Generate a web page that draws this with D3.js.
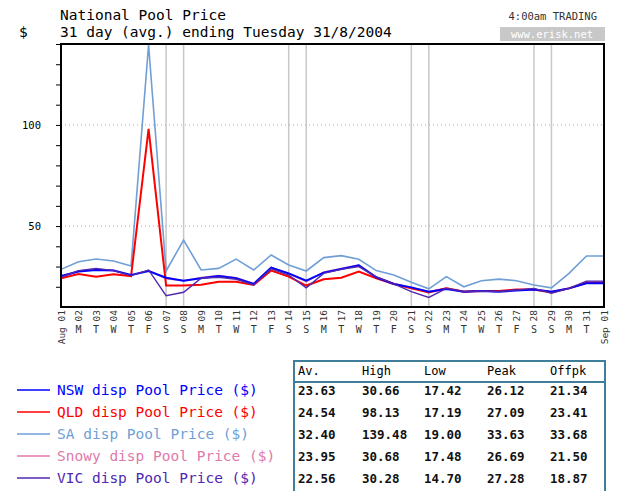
<!DOCTYPE html>
<html>
<head>
<meta charset="utf-8">
<script src="https://cdn.jsdelivr.net/npm/d3@7/dist/d3.min.js"></script>
<style>
  body { margin: 0; background: #fff; }
  text { font-family: 'DejaVu Sans Mono', monospace; }
</style>
</head>
<body>
<svg width="619" height="491"></svg>
<script>
var svg = d3.select('svg');

// days of Aug 2004 plus Sep 01
var dayNums = d3.range(1, 33);
var dayLabels = ['Aug 01','02','03','04','05','06','07','08','09','10','11','12','13','14','15','16',
    '17','18','19','20','21','22','23','24','25','26','27','28','29','30','31','Sep 01'];
var weekdays = ['','M','T','W','T','F','S','S','M','T','W','T','F','S','S','M',
    'T','W','T','F','S','S','M','T','W','T','F','S','S','M','T',''];
var weekendDays = [7, 8, 14, 15, 21, 22, 28, 29];

var nswPrice = [25.3, 27.5, 28.3, 28.0, 25.8, 27.8, 24.5, 23.0, 24.2, 25.3, 24.2, 21.4, 29.4, 26.6, 23.0, 27.0,
    28.8, 30.6, 24.7, 21.4, 19.7, 17.5, 18.9, 17.6, 17.9, 17.6, 18.1, 18.7, 17.5, 19.2, 21.7, 21.7];
var qldPrice = [24.2, 26.3, 25.0, 26.2, 25.3, 98.1, 20.6, 20.6, 21.0, 22.5, 22.5, 20.9, 28.0, 25.0, 20.6, 23.7,
    24.5, 27.5, 24.2, 21.4, 19.2, 17.2, 19.2, 17.6, 17.9, 17.9, 18.7, 18.7, 17.2, 19.2, 22.0, 22.0];
var saPrice = [28.6, 32.4, 33.7, 32.7, 30.3, 139.48, 27.8, 43.1, 28.3, 29.1, 33.7, 28.3, 35.7, 30.8, 27.8, 34.4,
    35.4, 33.6, 28.0, 25.8, 22.2, 19.0, 25.0, 20.0, 23.0, 23.8, 23.0, 20.9, 19.5, 26.6, 35.2, 35.2];
var snowyPrice = [25.0, 27.8, 28.8, 28.2, 25.6, 28.0, 24.0, 23.0, 24.5, 25.6, 24.4, 21.6, 29.6, 26.4, 22.5, 27.3,
    29.0, 30.7, 24.8, 21.6, 19.5, 17.5, 19.3, 17.8, 18.0, 17.8, 18.3, 18.8, 17.6, 19.3, 22.3, 22.3];
var vicPrice = [24.7, 28.0, 29.1, 28.0, 25.5, 28.3, 15.6, 17.3, 24.2, 24.7, 23.7, 20.9, 28.9, 25.8, 19.5, 26.6,
    28.6, 30.0, 24.9, 21.4, 17.6, 14.7, 19.2, 17.6, 17.9, 17.6, 18.4, 19.2, 16.8, 19.2, 22.8, 22.8];

var seriesNames = ['NSW disp Pool Price ($)', 'QLD disp Pool Price ($)', 'SA disp Pool Price ($)',
    'Snowy disp Pool Price ($)', 'VIC disp Pool Price ($)'];
var seriesColors = ['#0000ff', '#ff0000', '#6f9fd6', '#e07aaa', '#5028b0'];
var seriesValues = [nswPrice, qldPrice, saPrice, snowyPrice, vicPrice];

// summary table
var tableHeaders = ['Av.', 'High', 'Low', 'Peak', 'Offpk'];
var avgCol = ['23.63', '24.54', '32.40', '23.95', '22.56'];
var highCol = ['30.66', '98.13', '139.48', '30.68', '30.28'];
var lowCol = ['17.42', '17.19', '19.00', '17.48', '14.70'];
var peakCol = ['26.12', '27.09', '33.63', '26.69', '27.28'];
var offpkCol = ['21.34', '23.41', '33.68', '21.50', '18.87'];

var yTicks = [50, 100];

// layout
var plotLeft = 61, plotRight = 604, plotTop = 44, plotBottom = 307;

var x = d3.scaleLinear().domain([1, 32]).range([plotLeft, plotRight]);
var y = d3.scaleLinear().domain([10, 140]).range([plotBottom, plotTop]);

// titles
svg.append('text').attr('x', 60).attr('y', 20).style('font-size', '14.5px').text('National Pool Price');
svg.append('text').attr('x', 60).attr('y', 37).style('font-size', '14.5px').text('31 day (avg.) ending Tuesday 31/8/2004');
svg.append('text').attr('x', 19).attr('y', 37).style('font-size', '14.5px').text('$');
svg.append('text').attr('x', 597).attr('y', 20).attr('text-anchor', 'end')
    .style('font-size', '10.5px').style('fill', '#333').text('4:00am TRADING');
svg.append('rect').attr('x', 500).attr('y', 27).attr('width', 105).attr('height', 14).attr('fill', '#c8c8c8');
svg.append('text').attr('x', 552).attr('y', 38).attr('text-anchor', 'middle')
    .style('font-size', '10.5px').style('fill', '#fff').text('www.erisk.net');

// weekend lines
svg.selectAll('.wkend')
    .data(weekendDays)
    .enter()
    .append('line')
    .attr('class', 'wkend')
    .attr('x1', function(d) { return x(d); })
    .attr('x2', function(d) { return x(d); })
    .attr('y1', plotTop)
    .attr('y2', plotBottom)
    .style('stroke', '#c8c8c8')
    .style('stroke-width', 1.5);

// dotted grid
svg.selectAll('.grid')
    .data(yTicks)
    .enter()
    .append('line')
    .attr('class', 'grid')
    .attr('x1', plotLeft)
    .attr('x2', plotRight)
    .attr('y1', function(d) { return y(d); })
    .attr('y2', function(d) { return y(d); })
    .style('stroke', '#aaa')
    .style('stroke-dasharray', '1,3');

// y axis minor ticks + labels
var yAxis = d3.axisLeft(y)
    .tickValues(d3.range(20, 141, 10))
    .tickSize(5)
    .tickFormat(function(d) { return yTicks.indexOf(d) >= 0 ? d : ''; });
var yG = svg.append('g').attr('transform', 'translate(' + plotLeft + ',0)').call(yAxis);
yG.select('.domain').remove();
yG.selectAll('line').style('stroke', '#000');
yG.selectAll('text')
    .attr('x', -20)
    .style('font-family', 'DejaVu Sans Mono, monospace')
    .style('font-size', '10.5px')
    .style('fill', '#000');

// series lines
var line = d3.line()
    .x(function(d, i) { return x(dayNums[i]); })
    .y(function(d) { return y(d); });

var drawOrder = [2, 3, 1, 0, 4];
var widths = [2, 2, 1.6, 1.6, 1.4];
drawOrder.forEach(function(k) {
    svg.append('path')
        .datum(seriesValues[k])
        .attr('d', line)
        .style('fill', 'none')
        .style('stroke', seriesColors[k])
        .style('stroke-width', widths[k]);
});

// plot frame
svg.append('rect')
    .attr('x', plotLeft).attr('y', plotTop)
    .attr('width', plotRight - plotLeft).attr('height', plotBottom - plotTop)
    .style('fill', 'none')
    .style('stroke', '#000')
    .style('stroke-width', 2);

// x labels
var xLab = svg.selectAll('.xlab')
    .data(dayNums)
    .enter()
    .append('g')
    .attr('class', 'xlab')
    .attr('transform', function(d) { return 'translate(' + [x(d), 0] + ')'; });
xLab.append('text')
    .attr('transform', 'translate(3.5,310) rotate(-90)')
    .attr('text-anchor', 'end')
    .style('font-size', '9.5px')
    .style('fill', '#333')
    .text(function(d, i) { return dayLabels[i]; });
xLab.append('text')
    .attr('y', 333)
    .attr('text-anchor', 'middle')
    .style('font-size', '10px')
    .style('fill', '#333')
    .text(function(d, i) { return weekdays[i]; });

// legend
var rowY = [390, 412, 434, 456, 478];
var legend = svg.selectAll('.legend')
    .data(seriesNames)
    .enter()
    .append('g')
    .attr('class', 'legend')
    .attr('transform', function(d, i) { return 'translate(0,' + rowY[i] + ')'; });
legend.append('line')
    .attr('x1', 17).attr('x2', 50)
    .style('stroke', function(d, i) { return seriesColors[i]; })
    .style('stroke-width', 1.5);
legend.append('text')
    .attr('x', 57).attr('y', 5)
    .style('font-size', '14.5px')
    .style('fill', function(d, i) { return seriesColors[i]; })
    .text(function(d) { return d; });

// table
var colX = [298, 362, 424, 487, 550];
var tableCols = [avgCol, highCol, lowCol, peakCol, offpkCol];
svg.append('rect')
    .attr('x', 294).attr('y', 361).attr('width', 311).attr('height', 131)
    .style('fill', 'none').style('stroke', '#3f7f9c').style('stroke-width', 2);
svg.append('line')
    .attr('x1', 294).attr('x2', 605).attr('y1', 382).attr('y2', 382)
    .style('stroke', '#3f7f9c').style('stroke-width', 2);
svg.selectAll('.thead')
    .data(tableHeaders)
    .enter()
    .append('text')
    .attr('class', 'thead')
    .attr('x', function(d, i) { return colX[i]; })
    .attr('y', 375)
    .style('font-size', '12px')
    .text(function(d) { return d; });
tableCols.forEach(function(col, c) {
    svg.selectAll('.tcell' + c)
        .data(col)
        .enter()
        .append('text')
        .attr('class', 'tcell' + c)
        .attr('x', colX[c])
        .attr('y', function(d, i) { return rowY[i] + 5; })
        .style('font-size', '12.5px')
        .style('font-weight', 'bold')
        .style('fill', '#111')
        .text(function(d) { return d; });
});
</script>
</body>
</html>
